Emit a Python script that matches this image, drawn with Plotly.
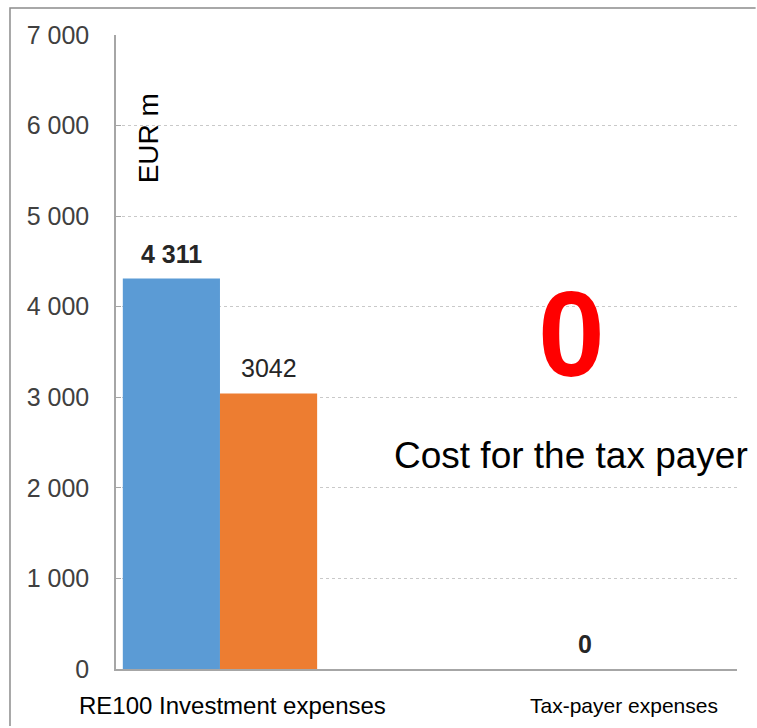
import plotly.graph_objects as go

# ---- data -------------------------------------------------------------
categories = ["RE100 Investment expenses", "Tax-payer expenses"]
series_1 = [4311, 0]          # blue bars
series_2 = [3042, 0]          # orange bars
y_ticks = [0, 1000, 2000, 3000, 4000, 5000, 6000, 7000]
unit_label = "EUR m"
headline_value = 0
headline_caption = "Cost for the tax payer"


def spaced(v):
    """Thousands separated by a space, e.g. 4311 -> '4 311'."""
    return f"{v:,}".replace(",", " ")


# ---- styling -------------------------------------------------------------
FONT = "Liberation Sans, Arial, Helvetica, sans-serif"
BLUE = "#5B9BD5"
ORANGE = "#ED7D31"
AXIS_GREY = "#a6a6a6"
GRID_GREY = "#c9c9c9"
TEXT_DARK = "#262626"
BAR_W = 0.307  # bar width in category units

fig = go.Figure()
fig.add_bar(x=categories, y=series_1, width=BAR_W, offset=-1.5 * BAR_W,
            marker=dict(color=BLUE, line=dict(width=0)), hoverinfo="y")
fig.add_bar(x=categories, y=series_2, width=BAR_W, offset=-0.5 * BAR_W,
            marker=dict(color=ORANGE, line=dict(width=0)), hoverinfo="y")

# value labels above the bars: (series values, offset of bar centre, index, text, bold)
label_specs = [
    (series_1, -BAR_W, 0, spaced(series_1[0]), True),
    (series_2, 0.0, 0, str(series_2[0]), False),
    (series_2, 0.0, 1, spaced(series_2[1]), True),
]
for vals, off, i, txt, bold in label_specs:
    fig.add_annotation(
        x=i + off, y=vals[i], xref="x", yref="y",
        text=f"<b>{txt}</b>" if bold else txt,
        showarrow=False, yanchor="middle", yshift=25,
        font=dict(family=FONT, size=25, color=TEXT_DARK),
    )

# category labels under the axis
cat_pos = [(0.1876, 24), (0.818, 21)]
for name, (px, size) in zip(categories, cat_pos):
    fig.add_annotation(
        x=px, y=-0.058, xref="paper", yref="paper", text=name,
        showarrow=False, xanchor="center", yanchor="middle",
        font=dict(family=FONT, size=size, color="#000000"),
    )

# unit label, rotated
fig.add_annotation(
    x=0.052, y=0.8375, xref="paper", yref="paper", text=unit_label,
    textangle=-90, showarrow=False, xanchor="center", yanchor="middle",
    font=dict(family=FONT, size=28, color="#000000"),
)

# headline figure and caption
fig.add_annotation(
    x=0.7335, y=0.529, xref="paper", yref="paper",
    text=f"<b>{headline_value}</b>", showarrow=False,
    xanchor="center", yanchor="middle",
    font=dict(family=FONT, size=120, color="#FF0000"),
)
fig.add_annotation(
    x=0.7327, y=0.3375, xref="paper", yref="paper",
    text=headline_caption, showarrow=False,
    xanchor="center", yanchor="middle",
    font=dict(family=FONT, size=37, color="#000000"),
)

# outer frame of the chart: left and top edges as one open path
fig.add_shape(type="path", xref="paper", yref="paper",
              path="M -0.1707,-0.09 L -0.1707,1.0426 L 1.03,1.0426",
              line=dict(color="#8c8c8c", width=1.5))

fig.update_layout(
    width=757, height=728,
    margin=dict(l=116, r=20, t=35, b=59),
    paper_bgcolor="white", plot_bgcolor="white",
    showlegend=False, barmode="overlay",
    font=dict(family=FONT, color="#404040"),
)
fig.update_xaxes(
    range=[-0.482, 1.48], showticklabels=False, ticks="",
    showline=True, linecolor=AXIS_GREY, linewidth=1.5,
    showgrid=False, zeroline=False, fixedrange=True,
)
fig.update_yaxes(
    range=[0, 7000], tickvals=y_ticks, ticktext=[spaced(v) for v in y_ticks],
    showgrid=True, gridcolor=GRID_GREY, gridwidth=1, griddash="dot",
    showline=True, linecolor=AXIS_GREY, linewidth=1.5,
    ticks="inside", ticklen=5, tickcolor=AXIS_GREY,
    tickfont=dict(family=FONT, size=25, color="#404040"),
    ticklabelstandoff=20, zeroline=False, fixedrange=True,
)

fig.write_html("out.html", config={"displayModeBar": False})
